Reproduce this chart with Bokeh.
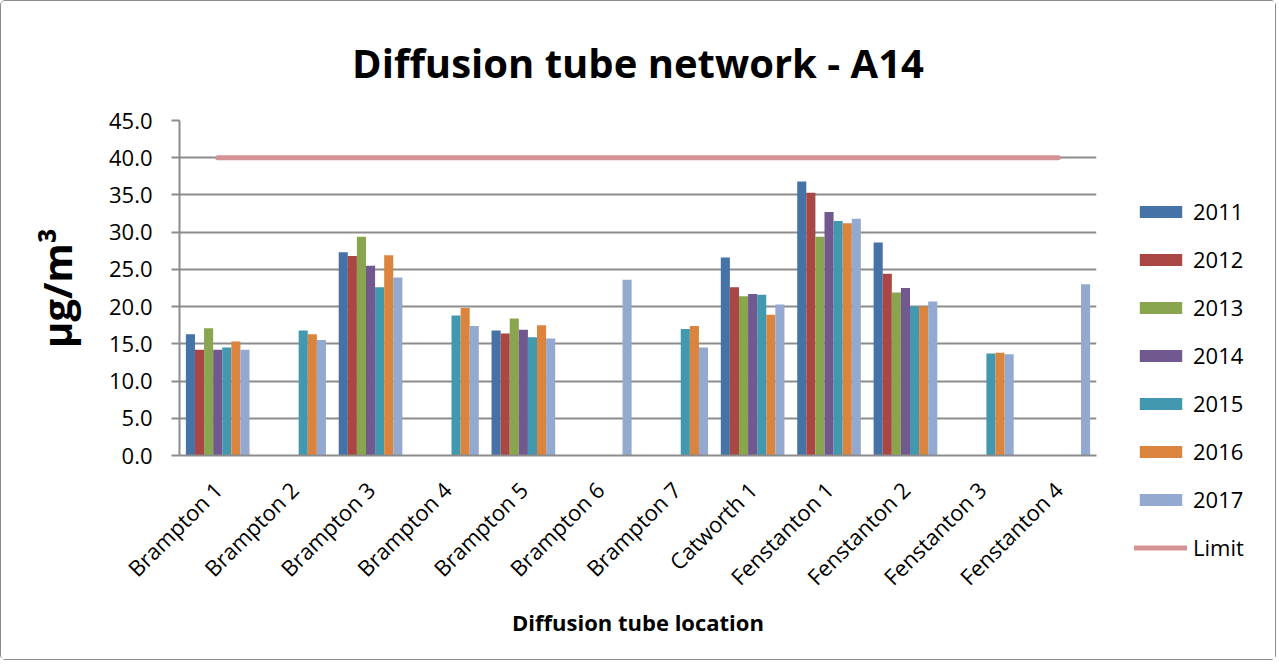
import math
from bokeh.plotting import figure
from bokeh.layouts import row
from bokeh.models import (ColumnDataSource, FactorRange, Range1d, Legend, LegendItem,
                          NumeralTickFormatter, SingleIntervalTicker)
from bokeh.transform import dodge
from bokeh.embed import file_html
from bokeh.resources import INLINE

nan = float("nan")

locations = ["Brampton 1", "Brampton 2", "Brampton 3", "Brampton 4", "Brampton 5",
             "Brampton 6", "Brampton 7", "Catworth 1", "Fenstanton 1", "Fenstanton 2",
             "Fenstanton 3", "Fenstanton 4"]
years = ["2011", "2012", "2013", "2014", "2015", "2016", "2017"]

v2011 = [16.3, nan, 27.3, nan, 16.8, nan, nan, 26.6, 36.8, 28.6, nan, nan]
v2012 = [14.2, nan, 26.8, nan, 16.4, nan, nan, 22.6, 35.3, 24.4, nan, nan]
v2013 = [17.1, nan, 29.4, nan, 18.4, nan, nan, 21.4, 29.4, 21.9, nan, nan]
v2014 = [14.2, nan, 25.5, nan, 16.9, nan, nan, 21.7, 32.7, 22.5, nan, nan]
v2015 = [14.5, 16.8, 22.6, 18.8, 15.9, nan, 17.0, 21.6, 31.5, 20.0, 13.7, nan]
v2016 = [15.3, 16.3, 26.9, 19.8, 17.5, nan, 17.4, 18.9, 31.2, 20.0, 13.8, nan]
v2017 = [14.2, 15.5, 23.9, 17.4, 15.7, 23.6, 14.5, 20.3, 31.8, 20.7, 13.6, 23.0]
limit = [40.0] * 12

series = [v2011, v2012, v2013, v2014, v2015, v2016, v2017]
colors = ["#4572A7", "#AA4643", "#89A54E", "#71588F", "#4198AF", "#DB843D", "#93A9CF"]
limit_color = "#D49496"

data = {"loc": locations, "limit": limit}
for y, s in zip(years, series):
    data["y" + y] = s
source = ColumnDataSource(data)

FONT = "Open Sans"
GRID = "#8c8c8c"
H = 658

p = figure(x_range=FactorRange(*locations), y_range=Range1d(0, 45),
           width=1120, height=H, output_backend="svg", toolbar_location=None,
           min_border_left=178, min_border_right=25, min_border_top=119,
           min_border_bottom=H - 454)
p.frame_align = False

p.title.text = "Diffusion tube network - A14"
p.title.align = "center"
p.title.text_font = FONT
p.title.text_font_size = "40px"
p.title.text_font_style = "bold"
p.title.text_color = "black"
p.title.standoff = 62

bw = 0.119
for i, (y, c) in enumerate(zip(years, colors)):
    p.vbar(x=dodge("loc", (i - 3) * bw, range=p.x_range), top="y" + y, width=bw,
           source=source, fill_color=c, line_color=None)

p.line(x="loc", y="limit", source=source, line_color=limit_color, line_width=5,
       line_cap="round")

# axes
p.yaxis.ticker = SingleIntervalTicker(interval=5)
p.yaxis.formatter = NumeralTickFormatter(format="0.0")
p.yaxis.axis_label = "µg/m³"
p.yaxis.axis_label_text_font = FONT
p.yaxis.axis_label_text_font_size = "40px"
p.yaxis.axis_label_text_font_style = "bold"
p.yaxis.axis_label_text_color = "black"
p.yaxis.axis_label_standoff = 22
p.yaxis.major_tick_out = 8
p.yaxis.major_tick_in = 0
p.yaxis.minor_tick_line_color = None
p.yaxis.major_label_standoff = 19

p.xaxis.axis_label = "Diffusion tube location"
p.xaxis.axis_label_text_font = FONT
p.xaxis.axis_label_text_font_size = "22px"
p.xaxis.axis_label_text_font_style = "bold"
p.xaxis.axis_label_text_color = "black"
p.xaxis.axis_label_standoff = 2
p.xaxis.major_label_orientation = math.pi / 4
p.xaxis.major_label_standoff = 24

for ax in (p.xaxis, p.yaxis):
    ax.axis_line_color = GRID
    ax.axis_line_width = 2
    ax.major_tick_line_width = 2
    ax.major_label_text_font = FONT
    ax.major_label_text_color = "black"
p.yaxis.major_tick_line_color = GRID
p.xaxis.major_tick_line_color = None
p.yaxis.major_label_text_font_size = "22px"
p.xaxis.major_label_text_font_size = "22px"

p.xgrid.grid_line_color = None
p.ygrid.grid_line_color = GRID
p.ygrid.grid_line_width = 2
p.outline_line_color = None

# legend panel: a separate figure to the right of the chart; its renderers share
# the chart's data but sit outside its visible y range
q = figure(width=154, height=H, output_backend="svg", toolbar_location=None,
           x_axis_location=None, y_axis_location=None, min_border=0,
           x_range=FactorRange(*locations), y_range=Range1d(100, 200))
q.frame_align = False
q.grid.grid_line_color = None
q.outline_line_color = None
items = []
for y, c in zip(years, colors):
    r = q.vbar(x="loc", top="y" + y, width=0.1, source=source, fill_color=c,
               line_color=None)
    items.append(LegendItem(label=y, renderers=[r]))
lr = q.line(x="loc", y="limit", source=source, line_color=limit_color, line_width=5,
            line_cap="round")
items.append(LegendItem(label="Limit", renderers=[lr]))

legend = Legend(items=items, location=(13, H - 561), orientation="vertical",
                padding=0, margin=0, spacing=18, glyph_width=53, glyph_height=15,
                label_height=20, label_standoff=6, label_text_font=FONT,
                label_text_font_size="22px", label_text_color="black",
                border_line_color=None, background_fill_alpha=0)
q.add_layout(legend, "center")

layout = row(p, q, styles={"border": "1px solid #8c8c8c", "border-radius": "5px"})
open("out.html", "w").write(file_html(layout, INLINE))
